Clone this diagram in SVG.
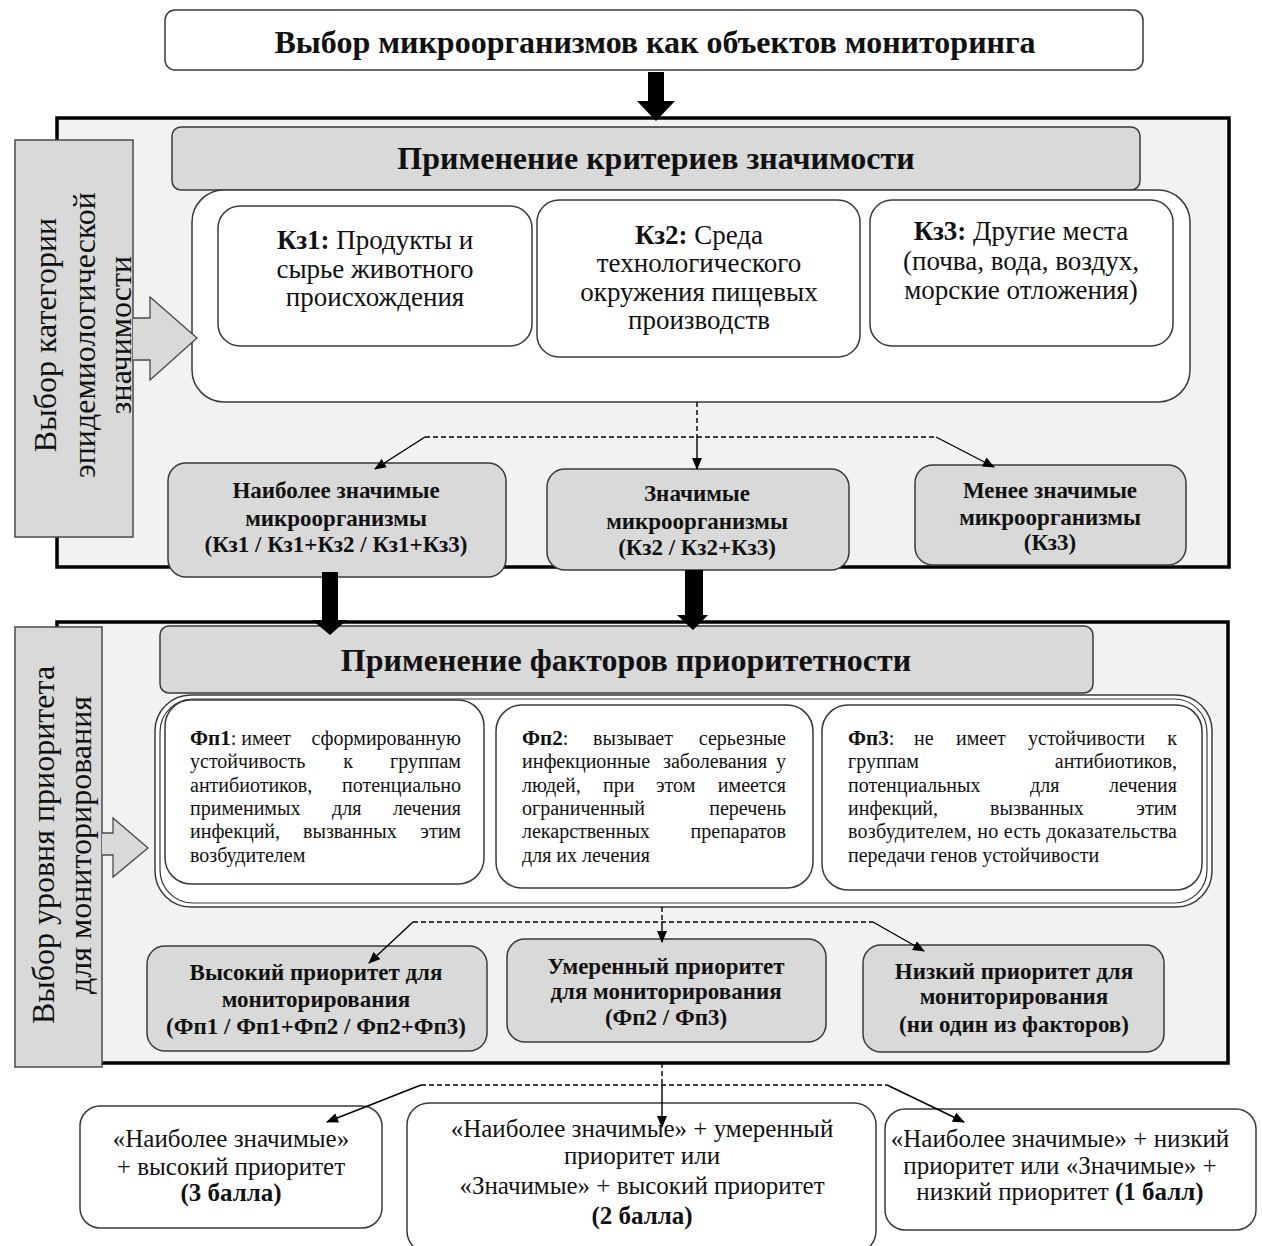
<svg xmlns="http://www.w3.org/2000/svg" width="1262" height="1246" viewBox="0 0 1262 1246">
<defs>
<style>
.wbox{fill:#fff;stroke:#3a3a3a;stroke-width:1.5}
.gbox{fill:#d9d9d9;stroke:#3a3a3a;stroke-width:1.5}
.sect{fill:#f2f2f2;stroke:#000;stroke-width:3.5}
.lbl{fill:#d9d9d9;stroke:#4a4a4a;stroke-width:1.5}
.blk{fill:#000}
.garr{fill:#d9d9d9;stroke:#4a4a4a;stroke-width:1.3}
text{font-family:"Liberation Serif","Times New Roman",serif;fill:#111}
.title{font-size:32px;font-weight:bold;text-anchor:middle}
.kz{font-size:27px;text-anchor:middle}
.rb{font-size:23px;font-weight:bold;text-anchor:middle}
.bt{font-size:25px;text-anchor:middle}
.lab{font-size:32px;text-anchor:middle}
.fp{font-size:20px}
.fpb{font-size:21px;font-weight:bold}
.e{text-anchor:end}
.m{text-anchor:middle}
.dash{fill:none;stroke:#000;stroke-width:1.4;stroke-dasharray:5,3}
.sol{fill:none;stroke:#000;stroke-width:1.4}
</style>
<marker id="ah" markerUnits="userSpaceOnUse" markerWidth="12" markerHeight="10" refX="11" refY="5" orient="auto">
<path d="M0,0 L12,5 L0,10 z" fill="#000"/>
</marker>
</defs>

<g id="top">
<rect class="wbox" x="165" y="10" width="978" height="60" rx="10"/>
<text class="title" x="655" y="53">Выбор микроорганизмов как объектов мониторинга</text>
</g>

<g id="section1">
<rect class="sect" x="57" y="118" width="1172" height="449"/>
</g>
<g id="label1">
<rect class="lbl" x="15" y="140" width="118" height="397"/>
<text class="lab" transform="translate(56,335) rotate(-90)">Выбор категории</text>
<text class="lab" transform="translate(95,335) rotate(-90)">эпидемиологической</text>
<text class="lab" transform="translate(131,335) rotate(-90)">значимости</text>
</g>
<g id="header1">
<rect class="gbox" x="172" y="127" width="968" height="63" rx="9"/>
<text class="title" x="656" y="169">Применение критериев значимости</text>
</g>
<g id="container1">
<rect class="wbox" x="192" y="190" width="998" height="212" rx="32"/>
</g>
<g id="kz1">
<rect class="wbox" x="218" y="206" width="314" height="140" rx="22"/>
<text class="kz" x="375" y="249"><tspan font-weight="bold">Кз1:</tspan> Продукты и</text>
<text class="kz" x="375" y="278">сырье животного</text>
<text class="kz" x="375" y="306">происхождения</text>
</g>
<g id="kz2">
<rect class="wbox" x="537" y="200" width="323" height="157" rx="22"/>
<text class="kz" x="699" y="244"><tspan font-weight="bold">Кз2:</tspan> Среда</text>
<text class="kz" x="699" y="272">технологического</text>
<text class="kz" x="699" y="301">окружения пищевых</text>
<text class="kz" x="699" y="329">производств</text>
</g>
<g id="kz3">
<rect class="wbox" x="870" y="200" width="303" height="146" rx="22"/>
<text class="kz" x="1021" y="240"><tspan font-weight="bold">Кз3:</tspan> Другие места</text>
<text class="kz" x="1021" y="270">(почва, вода, воздух,</text>
<text class="kz" x="1021" y="299">морские отложения)</text>
</g>
<g id="r1a">
<rect class="gbox" x="168" y="463" width="338" height="114" rx="18"/>
<text class="rb" x="336" y="498">Наиболее значимые</text>
<text class="rb" x="336" y="526">микроорганизмы</text>
<text class="rb" x="336" y="552">(Кз1 / Кз1+Кз2 / Кз1+Кз3)</text>
</g>
<g id="r1b">
<rect class="gbox" x="547" y="469" width="302" height="101" rx="18"/>
<text class="rb" x="697" y="501">Значимые</text>
<text class="rb" x="697" y="529">микроорганизмы</text>
<text class="rb" x="697" y="555">(Кз2 / Кз2+Кз3)</text>
</g>
<g id="r1c">
<rect class="gbox" x="915" y="465" width="271" height="100" rx="18"/>
<text class="rb" x="1050" y="498">Менее значимые</text>
<text class="rb" x="1050" y="525">микроорганизмы</text>
<text class="rb" x="1050" y="550">(Кз3)</text>
</g>

<g id="section2">
<rect class="sect" x="57" y="622" width="1171" height="441"/>
</g>
<g id="label2">
<rect class="lbl" x="15" y="627" width="87" height="440"/>
<text class="lab" transform="translate(54,845) rotate(-90)">Выбор уровня приоритета</text>
<text class="lab" transform="translate(91,845) rotate(-90)">для мониторирования</text>
</g>
<g id="header2">
<rect class="gbox" x="160" y="626" width="933" height="67" rx="9"/>
<text class="title" x="626" y="671">Применение факторов приоритетности</text>
</g>
<g id="container2">
<rect class="wbox" x="155" y="695" width="1057" height="212" rx="36"/>
<rect fill="none" stroke="#3a3a3a" stroke-width="1.2" x="160" y="699" width="1047" height="204" rx="33"/>
</g>
<g id="fp1">
<rect class="wbox" x="165" y="700" width="319" height="184" rx="26"/>
<text class="fp" x="190" y="745"><tspan class="fpb">Фп1</tspan>: имеет</text>
<text class="fp e" x="461" y="745">сформированную</text>
<text class="fp" x="190" y="768">устойчивость</text>
<text class="fp m" x="348" y="768">к</text>
<text class="fp e" x="461" y="768">группам</text>
<text class="fp" x="190" y="792">антибиотиков,</text>
<text class="fp e" x="461" y="792">потенциально</text>
<text class="fp" x="190" y="815">применимых</text>
<text class="fp" x="332" y="815">для</text>
<text class="fp e" x="461" y="815">лечения</text>
<text class="fp" x="190" y="838">инфекций,</text>
<text class="fp" x="303" y="838">вызванных</text>
<text class="fp e" x="461" y="838">этим</text>
<text class="fp" x="190" y="862">возбудителем</text>
</g>
<g id="fp2">
<rect class="wbox" x="496" y="705" width="317" height="183" rx="26"/>
<text class="fp" x="522" y="745"><tspan class="fpb">Фп2</tspan>:</text>
<text class="fp" x="593" y="745">вызывает</text>
<text class="fp e" x="786" y="745">серьезные</text>
<text class="fp" x="522" y="768">инфекционные</text>
<text class="fp" x="663" y="768">заболевания</text>
<text class="fp e" x="786" y="768">у</text>
<text class="fp" x="522" y="792">людей,</text>
<text class="fp" x="603" y="792">при</text>
<text class="fp" x="656" y="792">этом</text>
<text class="fp e" x="786" y="792">имеется</text>
<text class="fp" x="522" y="815">ограниченный</text>
<text class="fp e" x="786" y="815">перечень</text>
<text class="fp" x="522" y="838">лекарственных</text>
<text class="fp e" x="786" y="838">препаратов</text>
<text class="fp" x="522" y="862">для их лечения</text>
</g>
<g id="fp3">
<rect class="wbox" x="822" y="705" width="380" height="185" rx="26"/>
<text class="fp" x="848" y="745"><tspan class="fpb">Фп3</tspan>:</text>
<text class="fp" x="914" y="745">не</text>
<text class="fp" x="956" y="745">имеет</text>
<text class="fp" x="1028" y="745">устойчивости</text>
<text class="fp e" x="1177" y="745">к</text>
<text class="fp" x="848" y="768">группам</text>
<text class="fp e" x="1177" y="768">антибиотиков,</text>
<text class="fp" x="848" y="792">потенциальных</text>
<text class="fp" x="1030" y="792">для</text>
<text class="fp e" x="1177" y="792">лечения</text>
<text class="fp" x="848" y="815">инфекций,</text>
<text class="fp" x="990" y="815">вызванных</text>
<text class="fp e" x="1177" y="815">этим</text>
<text class="fp" x="848" y="838" textLength="329" lengthAdjust="spacing">возбудителем, но есть доказательства</text>
<text class="fp" x="848" y="862">передачи генов устойчивости</text>
</g>
<g id="r2a">
<rect class="gbox" x="147" y="946" width="340" height="105" rx="18"/>
<text class="rb" x="316" y="980">Высокий приоритет для</text>
<text class="rb" x="316" y="1007">мониторирования</text>
<text class="rb" x="316" y="1034">(Фп1 / Фп1+Фп2 / Фп2+Фп3)</text>
</g>
<g id="r2b">
<rect class="gbox" x="507" y="939" width="319" height="103" rx="18"/>
<text class="rb" x="666" y="974">Умеренный приоритет</text>
<text class="rb" x="666" y="999">для мониторирования</text>
<text class="rb" x="666" y="1025">(Фп2 / Фп3)</text>
</g>
<g id="r2c">
<rect class="gbox" x="863" y="945" width="301" height="107" rx="18"/>
<text class="rb" x="1014" y="979">Низкий приоритет для</text>
<text class="rb" x="1014" y="1004">мониторирования</text>
<text class="rb" x="1014" y="1032">(ни один из факторов)</text>
</g>

<g id="b1">
<rect class="wbox" x="80" y="1106" width="302" height="122" rx="20"/>
<text class="bt" x="231" y="1147">«Наиболее значимые»</text>
<text class="bt" x="231" y="1175">+ высокий приоритет</text>
<text class="bt" x="231" y="1201" font-weight="bold">(3 балла)</text>
</g>
<g id="b2">
<rect class="wbox" x="407" y="1103" width="469" height="150" rx="22"/>
<text class="bt" x="642" y="1137">«Наиболее значимые» + умеренный</text>
<text class="bt" x="642" y="1164">приоритет или</text>
<text class="bt" x="642" y="1194">«Значимые» + высокий приоритет</text>
<text class="bt" x="642" y="1224" font-weight="bold">(2 балла)</text>
</g>
<g id="b3">
<rect class="wbox" x="885" y="1109" width="371" height="121" rx="20"/>
<text class="bt" x="1060" y="1147">«Наиболее значимые» + низкий</text>
<text class="bt" x="1060" y="1174">приоритет или «Значимые» +</text>
<text class="bt" x="1060" y="1200">низкий приоритет <tspan font-weight="bold">(1 балл)</tspan></text>
</g>

<g id="connectors">
<path class="blk" d="M648,72 H664 V101 H675 L656,121 L637,101 H648 Z"/>
<path class="garr" d="M133,318 H150 V297 L197,338 L150,380 V360 H133"/>
<path class="blk" d="M322,572 H338 V620 H347 L330,635 L312,620 H322 Z"/>
<path class="blk" d="M685,570 H703 V615 H708 L693,630 L677,615 H685 Z"/>
<path class="garr" d="M102,833 H113 V818 L148,848 L113,877 V855 H102"/>

<path class="dash" d="M697,402 V437"/>
<path class="dash" d="M425,437 H936"/>
<path class="sol" d="M697,437 V469" marker-end="url(#ah)"/>
<path class="sol" d="M425,437 L375,469" marker-end="url(#ah)"/>
<path class="sol" d="M936,437 L994,467" marker-end="url(#ah)"/>

<path class="dash" d="M662,907 V922"/>
<path class="dash" d="M413,922 H873"/>
<path class="sol" d="M662,922 V942" marker-end="url(#ah)"/>
<path class="sol" d="M413,922 L369,963" marker-end="url(#ah)"/>
<path class="sol" d="M873,922 L924,951" marker-end="url(#ah)"/>

<path class="dash" d="M662,1063 V1085"/>
<path class="dash" d="M421,1085 H887"/>
<path class="sol" d="M662,1085 V1127" marker-end="url(#ah)"/>
<path class="sol" d="M421,1085 L327,1122" marker-end="url(#ah)"/>
<path class="sol" d="M887,1085 L964,1122" marker-end="url(#ah)"/>
</g>
</svg>
